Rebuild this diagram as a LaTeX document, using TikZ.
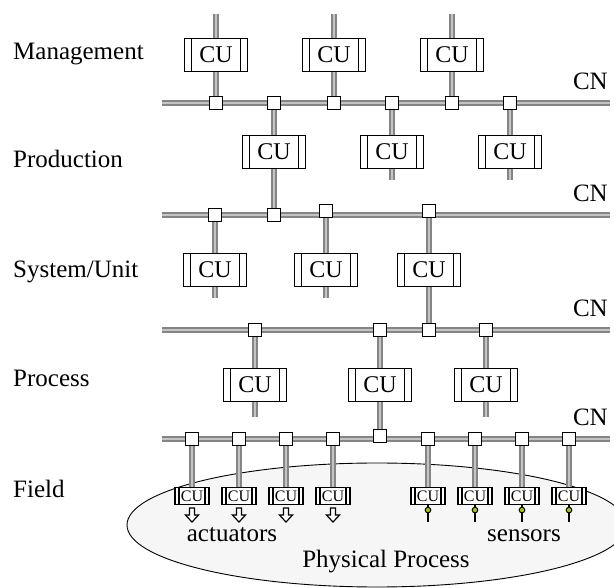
\documentclass[tikz,border=0pt]{standalone}
\usepackage{fontspec}
\setmainfont{Liberation Serif}
\pgfdeclarelayer{bottom}
\pgfdeclarelayer{background}
\pgfsetlayers{bottom,background,main}
\definecolor{busdark}{HTML}{858585}
\definecolor{buslight}{HTML}{C4C4C4}
\definecolor{procfill}{HTML}{F6F6F6}
\definecolor{sensorgreen}{HTML}{99CC00}
\tikzset{
  bus/.style={line width=2.2pt, draw=busdark, double=buslight, double distance=2.1pt},
  cu/.style={draw, fill=white, line width=1.2pt, minimum width=63pt, minimum height=33pt, inner sep=0pt,
    font=\fontsize{24}{28}\selectfont,
    path picture={\draw[line width=1.2pt]
      ([xshift=7pt]path picture bounding box.north west) -- ([xshift=7pt]path picture bounding box.south west)
      ([xshift=-7pt]path picture bounding box.north east) -- ([xshift=-7pt]path picture bounding box.south east);}},
  fcu/.style={draw, fill=white, line width=1.1pt, minimum width=34pt, minimum height=17pt, inner sep=0pt,
    font=\fontsize{16}{18}\selectfont,
    path picture={\draw[line width=1.1pt]
      ([xshift=4pt]path picture bounding box.north west) -- ([xshift=4pt]path picture bounding box.south west)
      ([xshift=-4pt]path picture bounding box.north east) -- ([xshift=-4pt]path picture bounding box.south east);}},
  sq/.style={draw, fill=white, line width=1.7pt, minimum size=13pt, inner sep=0pt},
  lvl/.style={anchor=base west, inner sep=0pt, font=\fontsize{25}{30}\selectfont},
  cn/.style={anchor=base east, inner sep=0pt, font=\fontsize{25}{30}\selectfont},
  txt/.style={anchor=base, inner sep=0pt, font=\fontsize{25}{30}\selectfont},
  actarrow/.style={draw, fill=white, line width=1.2pt, line join=miter},
  sensorstem/.style={line width=1.3pt},
  sensorhead/.style={draw, line width=1pt, fill=sensorgreen},
  process/.style={draw, line width=0.9pt, fill=procfill},
}
\begin{document}
\begin{tikzpicture}[x=1pt, y=-1pt]
\useasboundingbox (0,0) rectangle (614,588);

% level labels
\node[lvl] (lman) at (13,60) {Management};
\node[lvl] (lprod) at (13,168) {Production};
\node[lvl] (lsys) at (13,278) {System/Unit};
\node[lvl] (lproc) at (13,387) {Process};
\node[lvl] (lfield) at (13,497) {Field};

% CN labels
\node[cn] (cn1) at (608,90) {CN};
\node[cn] (cn2) at (608,202) {CN};
\node[cn] (cn3) at (608,317) {CN};
\node[cn] (cn4) at (608,426) {CN};

% bus end points
\coordinate (b1w) at (162,103); \coordinate (b1e) at (610,103);
\coordinate (b2w) at (162,215); \coordinate (b2e) at (610,215);
\coordinate (b3w) at (162,330); \coordinate (b3e) at (610,330);
\coordinate (b4w) at (162,439); \coordinate (b4e) at (610,439);

% Management
\node[cu] (m1) at (216,55) {CU};
\node[cu] (m2) at (334,55) {CU};
\node[cu] (m3) at (452,55) {CU};
\coordinate (mt1) at (216,14); \coordinate (mt2) at (334,14); \coordinate (mt3) at (452,14);

% bus 1 squares
\node[sq] (s1a) at (216,103) {};
\node[sq] (s1b) at (274,103) {};
\node[sq] (s1c) at (334,103) {};
\node[sq] (s1d) at (392,103) {};
\node[sq] (s1e) at (452,103) {};
\node[sq] (s1f) at (510,103) {};

% Production
\node[cu] (p1) at (274,152) {CU};
\node[cu] (p2) at (392,152) {CU};
\node[cu] (p3) at (510,152) {CU};
\coordinate (pb2) at (392,180); \coordinate (pb3) at (510,180);

% bus 2 squares
\node[sq] (s2a) at (215,215) {};
\node[sq] (s2b) at (274,215) {};
\node[sq] (s2c) at (326,211) {};
\node[sq] (s2d) at (429,211) {};

% System/Unit
\node[cu] (u1) at (215,270) {CU};
\node[cu] (u2) at (326,270) {CU};
\node[cu] (u3) at (429,270) {CU};
\coordinate (ub1) at (215,298); \coordinate (ub2) at (326,298);

% bus 3 squares
\node[sq] (s3a) at (255,330) {};
\node[sq] (s3b) at (380,330) {};
\node[sq] (s3c) at (429,330) {};
\node[sq] (s3d) at (486,330) {};

% Process
\node[cu] (r1) at (255,385) {CU};
\node[cu] (r2) at (380,385) {CU};
\node[cu] (r3) at (486,385) {CU};
\coordinate (rb1) at (255,417); \coordinate (rb3) at (486,417);

% bus 4 squares
\node[sq] (s4a) at (192,439) {};
\node[sq] (s4b) at (239,439) {};
\node[sq] (s4c) at (286,439) {};
\node[sq] (s4d) at (333,439) {};
\node[sq] (s4e) at (380,436) {};
\node[sq] (s4f) at (428,439) {};
\node[sq] (s4g) at (475,439) {};
\node[sq] (s4h) at (522,439) {};
\node[sq] (s4i) at (569,439) {};

% Field
\node[fcu] (f1) at (192,496) {CU};
\node[fcu] (f2) at (239,496) {CU};
\node[fcu] (f3) at (286,496) {CU};
\node[fcu] (f4) at (333,496) {CU};
\node[fcu] (f5) at (428,496) {CU};
\node[fcu] (f6) at (475,496) {CU};
\node[fcu] (f7) at (522,496) {CU};
\node[fcu] (f8) at (569,496) {CU};

% actuator arrows
\foreach \n in {f1,f2,f3,f4}{
  \draw[actarrow, shift={(\n.south)}] (-2.5,3) -- (2.5,3) -- (2.5,10) -- (6.5,10) -- (0,17) -- (-6.5,10) -- (-2.5,10) -- cycle;
}
% sensors
\foreach \n in {f5,f6,f7,f8}{
  \draw[sensorstem] (\n.south) -- ++(0,17);
  \draw[sensorhead] ([yshift=-5pt]\n.south) circle[radius=2.8pt];
}

\node[txt] (act) at (232,541) {actuators};
\node[txt] (sen) at (524,541) {sensors};
\node[txt] (pp) at (386,567) {Physical Process};

\begin{pgfonlayer}{bottom}
  \begin{scope}
    \clip (0,0) rectangle (614,588);
    \draw[process] (377,525) ellipse[x radius=250, y radius=62];
  \end{scope}
\end{pgfonlayer}

\begin{pgfonlayer}{background}
  \draw[bus] (b1w) -- (b1e);
  \draw[bus] (b2w) -- (b2e);
  \draw[bus] (b3w) -- (b3e);
  \draw[bus] (b4w) -- (b4e);
  % management
  \draw[bus] (mt1) -- (m1); \draw[bus] (m1) -- (s1a);
  \draw[bus] (mt2) -- (m2); \draw[bus] (m2) -- (s1c);
  \draw[bus] (mt3) -- (m3); \draw[bus] (m3) -- (s1e);
  % production
  \draw[bus] (s1b) -- (p1); \draw[bus] (p1) -- (s2b);
  \draw[bus] (s1d) -- (p2); \draw[bus] (p2) -- (pb2);
  \draw[bus] (s1f) -- (p3); \draw[bus] (p3) -- (pb3);
  % system/unit
  \draw[bus] (s2a) -- (u1); \draw[bus] (u1) -- (ub1);
  \draw[bus] (s2c) -- (u2); \draw[bus] (u2) -- (ub2);
  \draw[bus] (s2d) -- (u3); \draw[bus] (u3) -- (s3c);
  % process
  \draw[bus] (s3a) -- (r1); \draw[bus] (r1) -- (rb1);
  \draw[bus] (s3b) -- (r2); \draw[bus] (r2) -- (s4e);
  \draw[bus] (s3d) -- (r3); \draw[bus] (r3) -- (rb3);
  % field
  \draw[bus] (s4a) -- (f1);
  \draw[bus] (s4b) -- (f2);
  \draw[bus] (s4c) -- (f3);
  \draw[bus] (s4d) -- (f4);
  \draw[bus] (s4f) -- (f5);
  \draw[bus] (s4g) -- (f6);
  \draw[bus] (s4h) -- (f7);
  \draw[bus] (s4i) -- (f8);
\end{pgfonlayer}
\end{tikzpicture}
\end{document}
